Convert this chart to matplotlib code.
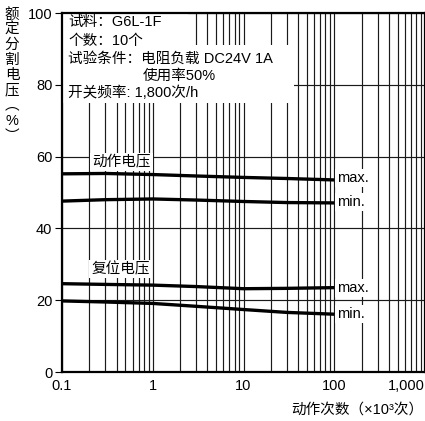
import matplotlib
matplotlib.use("Agg")
import matplotlib.pyplot as plt
from matplotlib.patches import Rectangle
import numpy as np

plt.rcParams['font.family'] = ['Liberation Sans', 'Noto Sans CJK SC', 'DejaVu Sans']

# ---- data ----
ops = [0.1, 0.3, 1, 3, 10, 30, 100]              # operations (x10^3)
op_max = [55.2, 55.3, 55.0, 54.6, 54.2, 53.9, 53.5]  # 动作电压 max
op_min = [47.6, 48.0, 48.2, 47.9, 47.5, 47.2, 47.1]  # 动作电压 min
rs_max = [24.6, 24.4, 24.2, 23.8, 23.2, 23.3, 23.5]  # 复位电压 max
rs_min = [19.8, 19.5, 19.1, 18.3, 17.4, 16.6, 16.1]  # 复位电压 min

xticks = [0.1, 1, 10, 100, 1000]
xticklabels = ['0.1', '1', '10', '100', '1,000']
yticks = [0, 20, 40, 60, 80, 100]

info_lines = ['试料：G6L-1F', '个数：10个', '试验条件：电阻负载 DC24V 1A',
              '使用率50%', '开关频率: 1,800次/h']
ylabel_chars = ['额', '定', '分', '割', '电', '压', '︵', '%', '︶']
xlabel = '动作次数（×10³次）'

W, H = 425, 421
fig = plt.figure(figsize=(W / 100, H / 100), dpi=100)
L, R, B, T = 62, 425, 372, 13
ax = fig.add_axes([L / W, (H - B) / H, (R - L) / W, (B - T) / H])
ax.set_xscale('log')
ax.set_xlim(0.1, 1000)
ax.set_ylim(0, 100)

# grid
ax.set_xticks(xticks)
ax.set_xticklabels(xticklabels)
ax.set_yticks(yticks)
ax.grid(True, which='both', axis='x', color='#1a1a1a', lw=0.85, zorder=1)
ax.grid(True, which='major', axis='y', color='#1a1a1a', lw=0.85, zorder=1)
ax.set_axisbelow(True)
ax.tick_params(axis='x', which='both', length=0, pad=5, labelsize=10.5)
ax.tick_params(axis='y', which='major', length=5, width=0.8, pad=2, labelsize=10.5)
for s in ax.spines.values():
    s.set_linewidth(1.6)
    s.set_color('black')
labs = ax.get_xticklabels()
labs[-1].set_ha('right')

# curves
for ys in (op_max, op_min, rs_max, rs_min):
    ax.plot(ops, ys, color='black', lw=2.4, solid_capstyle='butt', zorder=4)

# white info box (stepped)
def px2ax(px, py):
    return (px - L) / (R - L), (B - py) / (B - T)

x0, y0 = px2ax(L, 45)
x1, y1 = px2ax(188, T)
ax.add_patch(Rectangle((0, y0), x1, 1 - y0, transform=ax.transAxes,
                       facecolor='white', edgecolor='none', zorder=2))
xa, ya = px2ax(294, 103)
ax.add_patch(Rectangle((0, ya), xa, y0 - ya + 0.001, transform=ax.transAxes,
                       facecolor='white', edgecolor='none', zorder=2))

line_y = [22, 41, 59, 76, 93]
line_x = [68, 68, 68, 143, 68]
for t, px, py in zip(info_lines, line_x, line_y):
    ax_x, ax_y = px2ax(px, py)
    ax.text(ax_x, ax_y, t, transform=ax.transAxes, ha='left', va='center',
            fontsize=10.5, zorder=3)

# curve labels
bbox = dict(facecolor='white', edgecolor='none', pad=1.5)
for t, px, py in [('动作电压', 92, 162), ('复位电压', 91, 269)]:
    ax_x, ax_y = px2ax(px, py)
    ax.text(ax_x, ax_y, t, transform=ax.transAxes, ha='left', va='center',
            fontsize=10.5, bbox=bbox, zorder=3)
for t, py in [('max.', 178), ('min.', 202), ('max.', 288), ('min.', 314)]:
    ax_x, ax_y = px2ax(337, py)
    ax.text(ax_x, ax_y, t, transform=ax.transAxes, ha='left', va='center',
            fontsize=10.5, bbox=bbox, zorder=3)

# axis labels
fig.text(12 / W, 1 - 8 / H, '\n'.join(ylabel_chars), ha='center', va='top',
         fontsize=10.5, linespacing=1.1)
fig.text(423 / W, (H - 410) / H, xlabel, ha='right', va='center', fontsize=10.5)

fig.savefig('out.png', dpi=100)
